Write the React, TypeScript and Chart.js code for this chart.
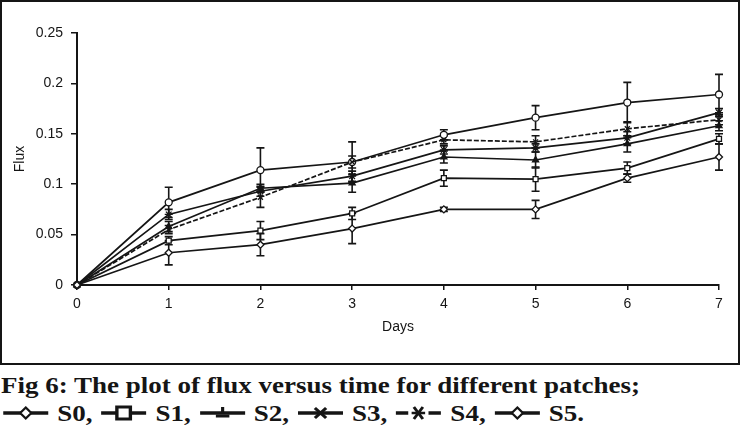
import React, { useEffect, useRef } from "react";
import { Chart, registerables } from "chart.js";

Chart.register(...registerables);

// ---- data ----
const days = [0, 1, 2, 3, 4, 5, 6, 7];
const xTickLabels = ["0", "1", "2", "3", "4", "5", "6", "7"];
const yTickLabels = ["0", "0.05", "0.1", "0.15", "0.2", "0.25"];
const seriesNames = ["S0", "S1", "S2", "S3", "S4", "S5"];

const s0 = [0, 0.032, 0.04, 0.056, 0.075, 0.075, 0.106, 0.127];
const s1 = [0, 0.044, 0.054, 0.071, 0.106, 0.105, 0.116, 0.145];
const s2 = [0, 0.058, 0.096, 0.101, 0.127, 0.124, 0.14, 0.158];
const s3 = [0, 0.07, 0.093, 0.108, 0.134, 0.136, 0.146, 0.171];
const s4 = [0, 0.055, 0.087, 0.122, 0.144, 0.142, 0.155, 0.164];
const s5 = [0, 0.082, 0.114, 0.122, 0.149, 0.166, 0.181, 0.189];

const s0Err = [0, 0.012, 0.011, 0.015, 0.002, 0.009, 0.004, 0.013];
const s1Err = [0, 0.004, 0.009, 0.006, 0.008, 0.012, 0.006, 0.005];
const s2Err = [0, 0.005, 0.004, 0.009, 0.006, 0.008, 0.008, 0.005];
const s3Err = [0, 0.005, 0.005, 0.005, 0.004, 0.004, 0.006, 0.004];
const s4Err = [0, 0.004, 0.01, 0.006, 0.004, 0.006, 0.007, 0.005];
const s5Err = [0, 0.015, 0.022, 0.02, 0.005, 0.012, 0.02, 0.02];

const captionTitle = "Fig 6: The plot of flux versus time for different patches;";

const INK = "#151515";

const seriesValues = [s0, s1, s2, s3, s4, s5];
const seriesErrors = [s0Err, s1Err, s2Err, s3Err, s4Err, s5Err];
const pointStyles = ["rectRot", "rect", "triangle", "star", "crossRot", "circle"];
const pointFills = ["#fff", "#fff", INK, INK, INK, "#fff"];
const pointRadii = [3.5, 3.5, 3.5, 4, 3.5, 3.5];
const dashes: number[][] = [[], [], [], [], [5, 2], []];

const errorBarPlugin = {
  id: "errorBars",
  beforeDatasetsDraw(chart: any) {
    const ctx = chart.ctx;
    const yScale = chart.scales.y;
    ctx.save();
    ctx.strokeStyle = INK;
    ctx.lineWidth = 1.6;
    chart.data.datasets.forEach((ds: any, i: number) => {
      const meta = chart.getDatasetMeta(i);
      const errs: number[] = ds.errors || [];
      meta.data.forEach((pt: any, j: number) => {
        const e = errs[j];
        if (!e) return;
        const v = ds.data[j].y;
        const top = yScale.getPixelForValue(v + e);
        const bot = yScale.getPixelForValue(v - e);
        const x = pt.x;
        ctx.beginPath();
        ctx.moveTo(x, top);
        ctx.lineTo(x, bot);
        ctx.moveTo(x - 4, top);
        ctx.lineTo(x + 4, top);
        ctx.moveTo(x - 4, bot);
        ctx.lineTo(x + 4, bot);
        ctx.stroke();
      });
    });
    ctx.restore();
  },
};

const tickFont = { family: "'Liberation Sans', Arial, sans-serif", size: 14 };

function LegendSymbol({ idx }: { idx: number }) {
  const line =
    idx === 4 ? (
      <g stroke={INK} strokeWidth={3.5}>
        <line x1={2} y1={10} x2={13} y2={10} />
        <line x1={31} y1={10} x2={42} y2={10} />
      </g>
    ) : (
      <line x1={2} y1={10} x2={42} y2={10} stroke={INK} strokeWidth={3.5} />
    );
  let marker: React.ReactNode = null;
  if (idx === 0 || idx === 5) {
    marker = <polygon points="22,4.5 27,10 22,15.5 17,10" fill="#fff" stroke={INK} strokeWidth={2} />;
  } else if (idx === 1) {
    marker = <rect x={16} y={4} width={12} height={12} fill="#fff" stroke={INK} strokeWidth={3} />;
  } else if (idx === 2) {
    marker = (
      <g stroke={INK} strokeWidth={2.8}>
        <line x1={22} y1={4} x2={22} y2={10} />
        <line x1={16} y1={13} x2={28} y2={13} />
      </g>
    );
  } else if (idx === 3) {
    marker = (
      <g stroke={INK} strokeWidth={2.8}>
        <line x1={17} y1={5} x2={27} y2={15} />
        <line x1={27} y1={5} x2={17} y2={15} />
      </g>
    );
  } else if (idx === 4) {
    marker = (
      <g stroke={INK} strokeWidth={2.6}>
        <line x1={18} y1={4} x2={26} y2={16} />
        <line x1={26} y1={4} x2={18} y2={16} />
        <line x1={16} y1={10} x2={28} y2={10} />
      </g>
    );
  }
  return (
    <svg width={44} height={20} style={{ verticalAlign: "-2px", display: "inline-block" }}>
      {line}
      {marker}
    </svg>
  );
}

function App() {
  const canvasRef = useRef<HTMLCanvasElement | null>(null);

  useEffect(() => {
    const canvas = canvasRef.current;
    if (!canvas) return;
    const datasets = seriesNames.map((name, i) => ({
      label: name,
      data: days.map((d, j) => ({ x: d, y: seriesValues[i][j] })),
      errors: seriesErrors[i],
      borderColor: INK,
      borderWidth: 1.7,
      borderDash: dashes[i],
      pointStyle: pointStyles[i],
      pointRadius: pointRadii[i],
      pointBackgroundColor: pointFills[i],
      pointBorderColor: INK,
      pointBorderWidth: 1.3,
      tension: 0,
      fill: false,
      clip: false,
    }));
    const chart = new Chart(canvas, {
      type: "line",
      data: { datasets } as any,
      plugins: [errorBarPlugin],
      options: {
        responsive: false,
        animation: false,
        devicePixelRatio: 1,
        layout: { padding: { top: 33, right: 22, left: 0, bottom: 0 } },
        plugins: { legend: { display: false }, tooltip: { enabled: false } },
        scales: {
          x: {
            type: "linear",
            min: 0,
            max: 7,
            afterFit: (s: any) => {
              s.height = 80;
            },
            ticks: {
              stepSize: 1,
              padding: 6,
              color: INK,
              font: tickFont,
              callback: (v: any) => xTickLabels[Math.round(Number(v))],
            },
            grid: { drawOnChartArea: false, drawTicks: true, tickLength: 5, color: INK, lineWidth: 1.5 },
            border: { display: true, color: INK, width: 2 },
            title: {
              display: true,
              text: "Days",
              color: INK,
              font: tickFont,
              padding: { top: 0, bottom: 29 },
            },
          },
          y: {
            min: 0,
            max: 0.25,
            afterFit: (s: any) => {
              s.width = 77;
            },
            ticks: {
              stepSize: 0.05,
              padding: 8,
              color: INK,
              font: tickFont,
              callback: (_v: any, i: number) => yTickLabels[i],
            },
            grid: { drawOnChartArea: false, drawTicks: true, tickLength: 6, color: INK, lineWidth: 1.5 },
            border: { display: true, color: INK, width: 2 },
            title: {
              display: true,
              text: "Flux",
              color: INK,
              font: tickFont,
              padding: { top: 12, bottom: 0 },
            },
          },
        },
      } as any,
    });
    return () => chart.destroy();
  }, []);

  return (
    <div style={{ position: "absolute", left: 0, top: 0, width: 741, height: 436, background: "#fff", overflow: "hidden" }}>
      <canvas ref={canvasRef} width={741} height={365} style={{ position: "absolute", left: 0, top: 0 }} />
      <div
        style={{
          position: "absolute",
          left: 0,
          top: 0,
          width: 740,
          height: 365,
          border: `2px solid ${INK}`,
          boxSizing: "border-box",
          pointerEvents: "none",
        }}
      />
      <div
        style={{
          position: "absolute",
          left: 1,
          top: 371,
          fontFamily: "'Liberation Serif', 'Times New Roman', serif",
          fontWeight: "bold",
          fontSize: 24,
          lineHeight: "28px",
          color: INK,
          whiteSpace: "nowrap",
          transform: "scaleX(1.125)",
          transformOrigin: "left top",
        }}
      >
        <div>{captionTitle}</div>
        <div>
          {seriesNames.map((name, i) => (
            <span key={name}>
              <LegendSymbol idx={i} />
              {" " + name + (i === seriesNames.length - 1 ? "." : ", ")}
            </span>
          ))}
        </div>
      </div>
    </div>
  );
}

export default App;
